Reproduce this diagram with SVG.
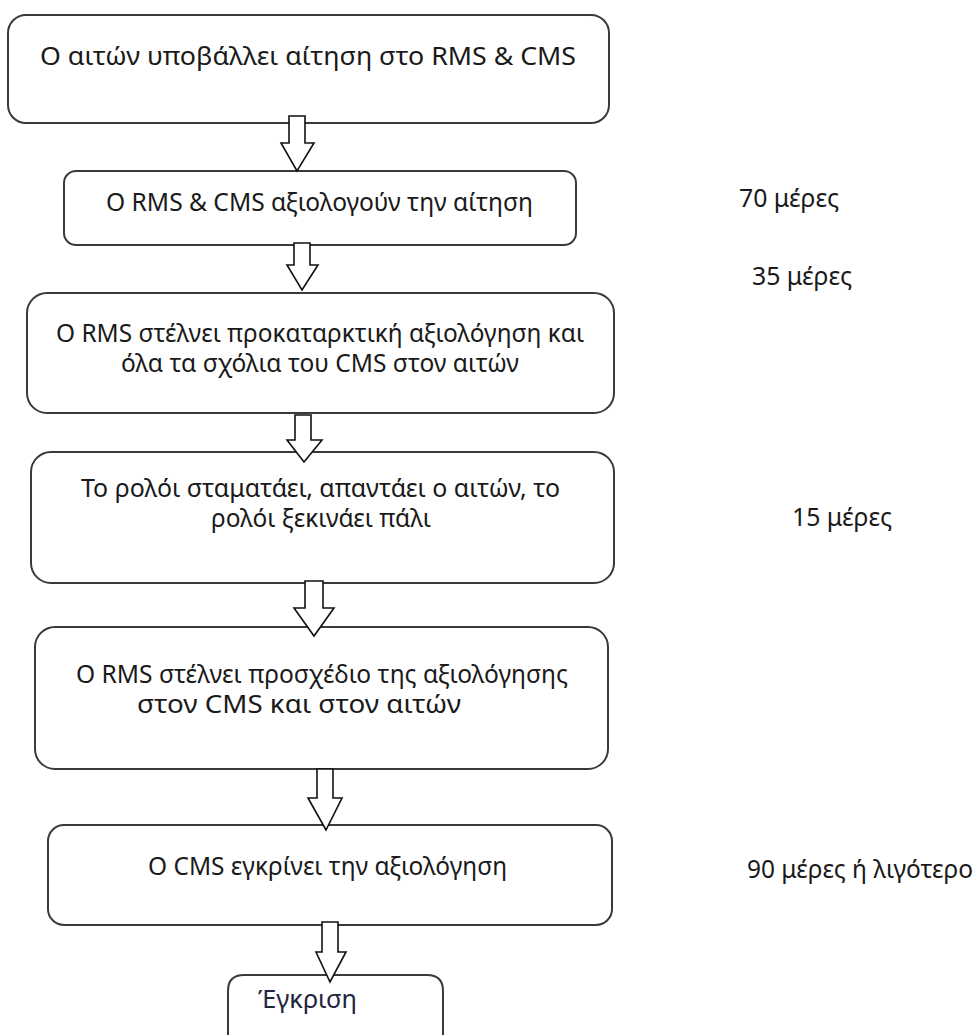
<svg xmlns="http://www.w3.org/2000/svg" width="976" height="1035" viewBox="0 0 976 1035">
<style>
.box{fill:#ffffff;stroke:#3a3a3a;stroke-width:2}
.arr{fill:#ffffff;stroke:#111111;stroke-width:1.6;stroke-linejoin:miter}
.t{font-family:"Noto Sans","Open Sans","DejaVu Sans",sans-serif;font-size:25px;fill:#1a1a1a}
</style>
<rect width="976" height="1035" fill="#ffffff"/>
<g id="node1"><rect class="box" x="8" y="15" width="601" height="108" rx="18"/>
<text class="t" x="40" y="65" textLength="536" lengthAdjust="spacingAndGlyphs">Ο αιτών υποβάλλει αίτηση στο RMS &amp; CMS</text></g>
<g id="node2"><rect class="box" x="64" y="171" width="512" height="74" rx="12"/>
<text class="t" x="106" y="211" textLength="427" lengthAdjust="spacingAndGlyphs">Ο RMS &amp; CMS αξιολογούν την αίτηση</text></g>
<g id="node3"><rect class="box" x="27" y="293" width="587" height="120" rx="20"/>
<text class="t" x="56" y="342" textLength="528" lengthAdjust="spacingAndGlyphs">Ο RMS στέλνει προκαταρκτική αξιολόγηση και</text>
<text class="t" x="121" y="372" textLength="398" lengthAdjust="spacingAndGlyphs">όλα τα σχόλια του CMS στον αιτών</text></g>
<g id="node4"><rect class="box" x="31" y="452" width="583" height="131" rx="20"/>
<text class="t" x="81" y="497" textLength="479" lengthAdjust="spacingAndGlyphs">Το ρολόι σταματάει, απαντάει ο αιτών, το</text>
<text class="t" x="211" y="527" textLength="220" lengthAdjust="spacingAndGlyphs">ρολόι ξεκινάει πάλι</text></g>
<g id="node5"><rect class="box" x="35" y="627" width="573" height="142" rx="20"/>
<text class="t" x="76" y="683" textLength="492" lengthAdjust="spacingAndGlyphs">Ο RMS στέλνει προσχέδιο της αξιολόγησης</text>
<text class="t" x="137" y="713" textLength="324" lengthAdjust="spacingAndGlyphs">στον CMS και στον αιτών</text></g>
<g id="node6"><rect class="box" x="48" y="825" width="564" height="100" rx="16"/>
<text class="t" x="148" y="875" textLength="359" lengthAdjust="spacingAndGlyphs">Ο CMS εγκρίνει την αξιολόγηση</text></g>
<g id="node7"><path class="box" d="M228 1045 V991 Q228 975 244 975 H427 Q443 975 443 991 V1045"/>
<text class="t" x="258" y="1008" textLength="99" lengthAdjust="spacingAndGlyphs" style="fill:#1f2440">Έγκριση</text></g>
<g id="labels">
<text class="t" x="739" y="207" textLength="100" lengthAdjust="spacingAndGlyphs">70 μέρες</text>
<text class="t" x="752" y="285" textLength="100" lengthAdjust="spacingAndGlyphs">35 μέρες</text>
<text class="t" x="792" y="526" textLength="100" lengthAdjust="spacingAndGlyphs">15 μέρες</text>
<text class="t" x="747" y="878" textLength="226" lengthAdjust="spacingAndGlyphs">90 μέρες ή λιγότερο</text>
</g>
<g id="connectors">
<path class="arr" d="M289 116 H305 V143 H314 L297 171 L281 143 H289 Z"/>
<path class="arr" d="M294 243 H310 V265 H318 L302 290 L287 265 H294 Z"/>
<path class="arr" d="M295 415 H311 V440 H322 L304 462 L287 440 H295 Z"/>
<path class="arr" d="M305 581 H323 V608 H334 L314 636 L294 608 H305 Z"/>
<path class="arr" d="M317 769 H333 V798 H342 L326 830 L308 798 H317 Z"/>
<path class="arr" d="M322 922 H338 V952 H346 L330 982 L316 952 H322 Z"/>
</g>
</svg>
